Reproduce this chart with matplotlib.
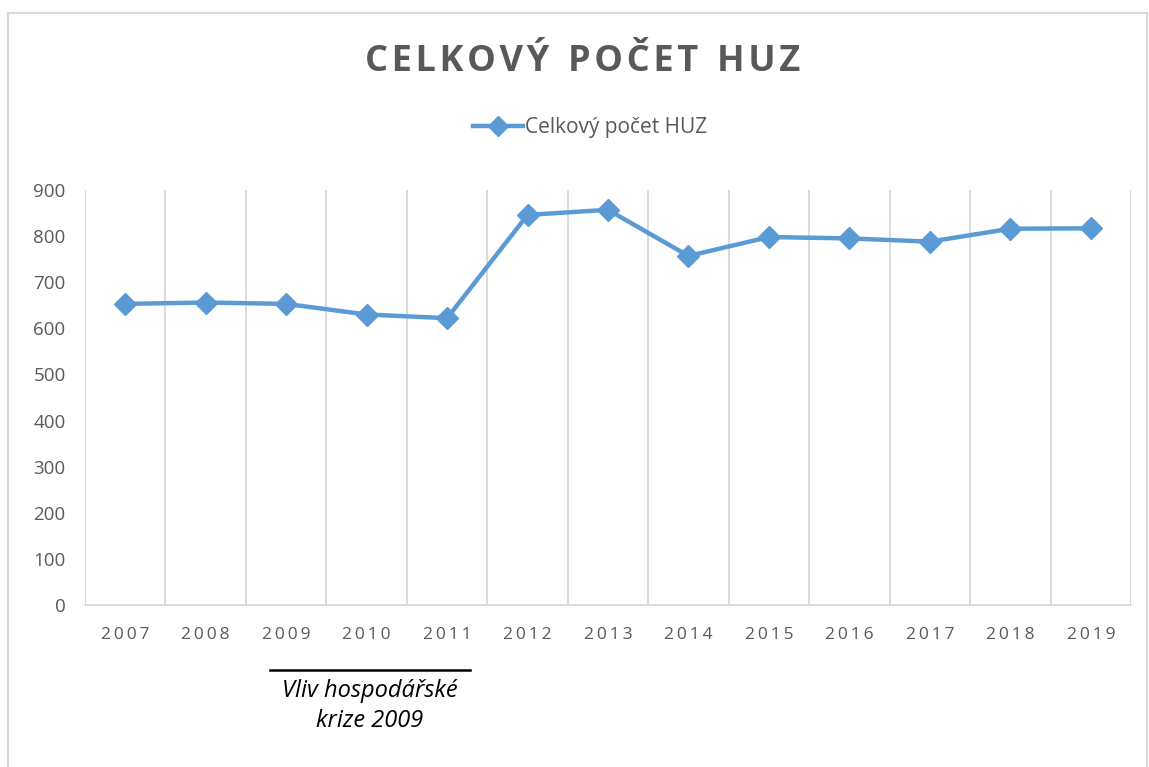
import matplotlib.pyplot as plt
from matplotlib.lines import Line2D
from matplotlib.patches import Rectangle

# Data
years = ['2007', '2008', '2009', '2010', '2011', '2012', '2013',
         '2014', '2015', '2016', '2017', '2018', '2019']
huz_count = [653, 656, 653, 630, 622, 846, 857, 757, 798, 795, 788, 816, 817]
y_ticks = [0, 100, 200, 300, 400, 500, 600, 700, 800, 900]

title_text = 'CELKOVÝ POČET HUZ'
series_name = 'Celkový počet HUZ'
note_text = 'Vliv hospodářské\nkrize 2009'

blue = '#5B9BD5'
grey_text = '#595959'
grid_grey = '#D9D9D9'

plt.rcParams['font.family'] = ['Open Sans', 'DejaVu Sans']

fig = plt.figure(figsize=(11.49, 7.67), dpi=100)
fig.patch.set_facecolor('white')

# Outer chart border
fig.patches.append(Rectangle((8 / 1149, -0.01), 1139 / 1149, 1 - 13 / 767 + 0.01,
                             transform=fig.transFigure, fill=False,
                             edgecolor='#D9D9D9', linewidth=1.5))

ax = fig.add_axes([85 / 1149, (767 - 605) / 767, 1046 / 1149, 415 / 767])

x = list(range(len(years)))
ax.plot(x, huz_count, color=blue, linewidth=3.2, marker='D', markersize=11,
        markerfacecolor=blue, markeredgecolor=blue, zorder=5)

ax.set_xlim(-0.5, len(years) - 0.5)
ax.set_ylim(0, 900)

# Vertical gridlines at category boundaries
for b in range(len(years) + 1):
    ax.axvline(b - 0.5, color=grid_grey, linewidth=1.4, zorder=1)

ax.set_yticks(y_ticks)
ax.set_yticklabels([str(v) for v in y_ticks], fontsize=13.5, color=grey_text)
ax.set_xticks(x)
ax.set_xticklabels(['\u2009'.join(y) for y in years], fontsize=12.5, color=grey_text)
ax.tick_params(axis='both', length=0)
ax.tick_params(axis='x', pad=16)
ax.tick_params(axis='y', pad=14)

for side in ['top', 'right', 'left']:
    ax.spines[side].set_visible(False)
ax.spines['bottom'].set_color(grid_grey)
ax.spines['bottom'].set_linewidth(1.4)

# Title (slightly letter-spaced)
fig.text(583 / 1149, 1 - 62 / 767, '\u200a'.join(title_text).replace('\u200a \u200a', '  '),
         ha='center', va='center', fontsize=26, fontweight='bold', color=grey_text)

# Legend
handle = Line2D([0], [0], color=blue, linewidth=3.2, marker='D', markersize=10,
                markerfacecolor=blue, markeredgecolor=blue)
fig.legend([handle], [series_name], loc='center', bbox_to_anchor=(590 / 1149, 1 - 128 / 767),
           frameon=False, fontsize=15, labelcolor=grey_text, handlelength=2.4,
           handletextpad=0.1)

# Annotation under the axis
fig.add_artist(Line2D([270 / 1149, 470 / 1149], [1 - 670 / 767, 1 - 670 / 767],
                      color='black', linewidth=1.8, transform=fig.transFigure))
fig.text(370 / 1149, 1 - 706 / 767, note_text, ha='center', va='center',
         fontsize=17, style='italic', color='black', linespacing=1.3)

fig.savefig('out.png', dpi=100)
